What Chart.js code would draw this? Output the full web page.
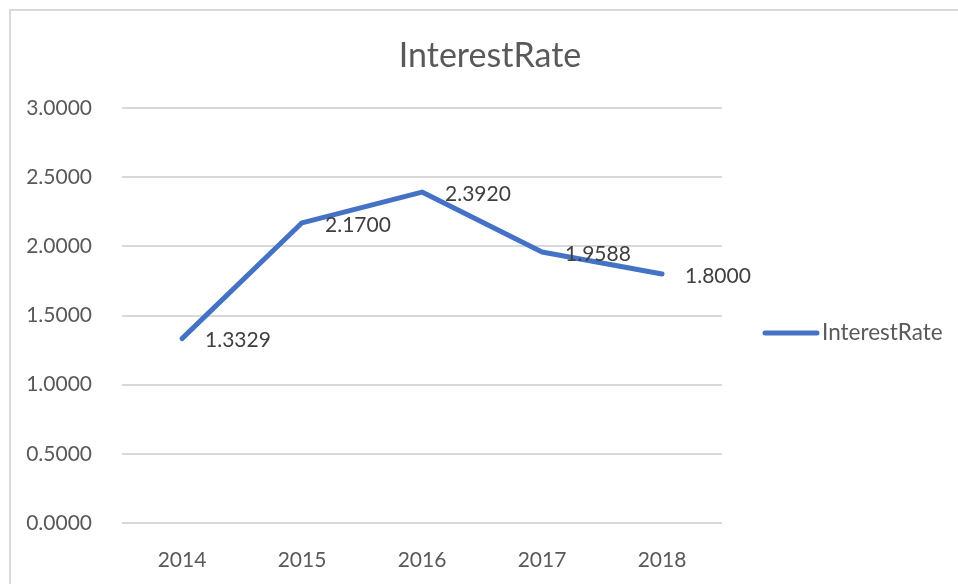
<!DOCTYPE html>
<html>
<head>
<meta charset="utf-8">
<script src="https://cdn.jsdelivr.net/npm/chart.js@4/dist/chart.umd.min.js"></script>
<style>
  html, body { margin: 0; padding: 0; background: #fff; overflow: hidden; }
  #wrap { position: relative; width: 958px; height: 584px; }
  #frame { position: absolute; left: 9px; top: 9px; width: 1000px; height: 700px; border: 2px solid #d9d9d9; box-sizing: border-box; }
  canvas { position: absolute; left: 0; top: 0; }
</style>
</head>
<body>
<div id="wrap">
  <div id="frame"></div>
  <canvas id="c" width="958" height="584"></canvas>
</div>
<script>
const chartTitle = "InterestRate";
const years = ["2014", "2015", "2016", "2017", "2018"];
const interestRate = [1.3329, 2.1700, 2.3920, 1.9588, 1.8000];
const yTicks = [0, 0.5, 1.0, 1.5, 2.0, 2.5, 3.0];

const FONT = "Lato, 'Open Sans', sans-serif";
const LINE_COLOR = "#4472C4";

const overlay = {
  id: "overlay",
  afterDatasetsDraw(chart) {
    const ctx = chart.ctx;
    ctx.save();
    // data labels
    const meta = chart.getDatasetMeta(0);
    ctx.font = "21px " + FONT;
    ctx.fillStyle = "#404040";
    ctx.textAlign = "left";
    ctx.textBaseline = "middle";
    meta.data.forEach((pt, i) => {
      ctx.fillText(interestRate[i].toFixed(4), pt.x + 23, pt.y + 2);
    });
    // title
    ctx.font = "34px " + FONT;
    ctx.fillStyle = "#595959";
    ctx.textAlign = "center";
    ctx.textBaseline = "alphabetic";
    ctx.fillText(chartTitle, 490, 67);
    // legend
    const ly = 333;
    ctx.strokeStyle = LINE_COLOR;
    ctx.lineWidth = 5;
    ctx.lineCap = "round";
    ctx.beginPath();
    ctx.moveTo(765, ly);
    ctx.lineTo(817, ly);
    ctx.stroke();
    ctx.font = "22.5px " + FONT;
    ctx.fillStyle = "#595959";
    ctx.textAlign = "left";
    ctx.textBaseline = "middle";
    ctx.fillText(chart.data.datasets[0].label, 822, ly);
    ctx.restore();
  }
};

new Chart(document.getElementById("c"), {
  type: "line",
  data: {
    labels: years,
    datasets: [{
      label: "InterestRate",
      data: interestRate,
      borderColor: LINE_COLOR,
      backgroundColor: LINE_COLOR,
      borderWidth: 5,
      pointRadius: 0,
      tension: 0,
      borderCapStyle: "round",
      borderJoinStyle: "round",
      fill: false
    }]
  },
  options: {
    responsive: false,
    animation: false,
    layout: { padding: { left: 0, right: 236, top: 108, bottom: 0 } },
    plugins: {
      legend: { display: false },
      title: { display: false },
      tooltip: { enabled: false }
    },
    scales: {
      x: {
        offset: true,
        grid: { display: false },
        border: { display: false },
        ticks: {
          color: "#595959",
          font: { family: FONT, size: 21 },
          padding: 17,
          maxRotation: 0
        },
        afterFit(scale) { scale.height = 61; }
      },
      y: {
        min: 0,
        max: 3,
        afterBuildTicks(scale) { scale.ticks = yTicks.map(v => ({ value: v })); },
        grid: { color: "#d9d9d9", lineWidth: 2, drawTicks: false },
        border: { display: false },
        ticks: {
          color: "#595959",
          font: { family: FONT, size: 21 },
          padding: 30,
          callback: (v) => Number(v).toFixed(4)
        },
        afterFit(scale) { scale.width = 122; }
      }
    }
  },
  plugins: [overlay]
});
</script>
</body>
</html>
